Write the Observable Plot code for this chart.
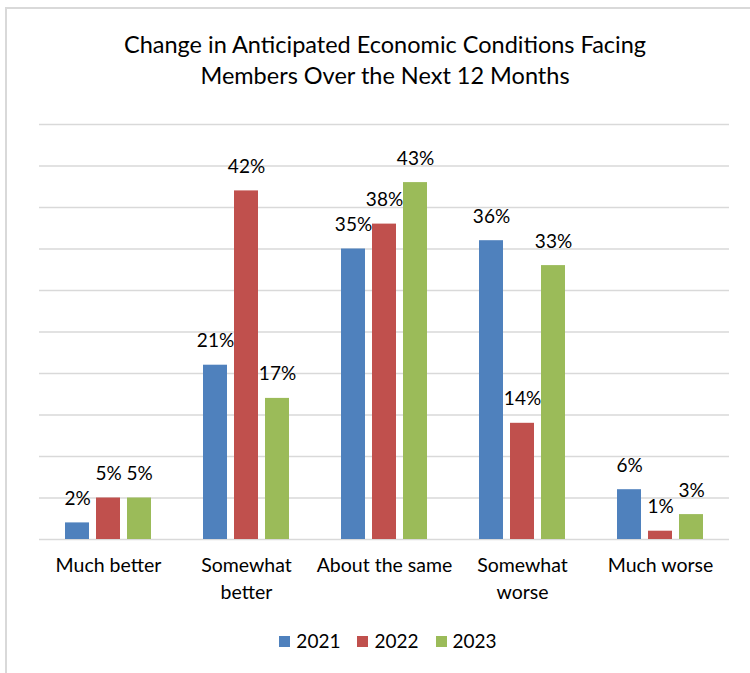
<!DOCTYPE html>
<html>
<head>
<meta charset="utf-8">
<script src="https://cdn.jsdelivr.net/npm/d3@7"></script>
<script src="https://cdn.jsdelivr.net/npm/@observablehq/plot@0.6"></script>
<style>
  html, body { margin: 0; padding: 0; background: #fff; }
  body { width: 750px; height: 673px; position: relative; overflow: hidden; font-family: Lato, "Open Sans", sans-serif; color: #000; }
  #frame { position: absolute; left: 5px; top: 7px; width: 800px; height: 720px; border: 2px solid #d9d9d9; box-sizing: border-box; }
  #title { position: absolute; left: 0; width: 770px; top: 29px; text-align: center; font-size: 23.5px; line-height: 31px; }
  #chart { position: absolute; left: 0; top: 100px; }
  #legend { position: absolute; left: 0; width: 776px; top: 629px; display: flex; justify-content: center; gap: 17px; font-size: 19px; line-height: 24px; }
  #legend .item { display: flex; align-items: center; gap: 6px; }
  #legend .sw { width: 11px; height: 11px; display: inline-block; }
</style>
</head>
<body>
<div id="frame"></div>
<div id="title">Change in Anticipated Economic Conditions Facing<br>Members Over the Next 12 Months</div>
<div id="chart"></div>
<div id="legend"></div>
<script>
const categories = ["Much better", "Somewhat better", "About the same", "Somewhat worse", "Much worse"];
const categoryLabels = ["Much better", "Somewhat\nbetter", "About the same", "Somewhat\nworse", "Much worse"];
const years = ["2021", "2022", "2023"];
const values2021 = [2, 21, 35, 36, 6];
const values2022 = [5, 42, 38, 14, 1];
const values2023 = [5, 17, 43, 33, 3];
const yearColors = ["#4F81BD", "#C0504D", "#9BBB59"];
const gridTicks = [0, 5, 10, 15, 20, 25, 30, 35, 40, 45, 50];

const seriesValues = [values2021, values2022, values2023];
const data = [];
categories.forEach((c, i) => {
  years.forEach((y, j) => {
    data.push({category: c, year: y, value: seriesValues[j][i]});
  });
});
const labelOf = new Map(categories.map((c, i) => [c, categoryLabels[i]]));

const chart = Plot.plot({
  width: 750,
  height: 510,
  marginLeft: 37,
  marginRight: 19,
  marginTop: 24,
  marginBottom: 71,
  style: {fontFamily: "Lato, 'Open Sans', sans-serif", fontSize: "19px", color: "#000", background: "transparent"},
  fx: {domain: categories, padding: 0},
  x: {domain: years, paddingInner: 0.22, paddingOuter: 0.8, axis: null},
  y: {domain: [0, 50], axis: null},
  color: {domain: years, range: yearColors},
  marks: [
    Plot.ruleY(gridTicks, {stroke: "#d9d9d9", strokeWidth: 1.5}),
    Plot.barY(data, {fx: "category", x: "year", y: "value", fill: "year"}),
    Plot.text(data, {fx: "category", x: "year", y: "value", text: d => d.value + "%", dy: -24, fontSize: 19, fill: "#000"}),
    Plot.axisFx({anchor: "bottom", tickSize: 0, tickPadding: 14, label: null, fontSize: 19.5, lineHeight: 1.35, tickFormat: c => labelOf.get(c), fill: "#000"})
  ]
});
document.getElementById("chart").appendChild(chart);

const legend = document.getElementById("legend");
years.forEach((y, j) => {
  const item = document.createElement("div");
  item.className = "item";
  const sw = document.createElement("span");
  sw.className = "sw";
  sw.style.background = yearColors[j];
  const t = document.createElement("span");
  t.textContent = y;
  item.appendChild(sw);
  item.appendChild(t);
  legend.appendChild(item);
});
</script>
</body>
</html>
